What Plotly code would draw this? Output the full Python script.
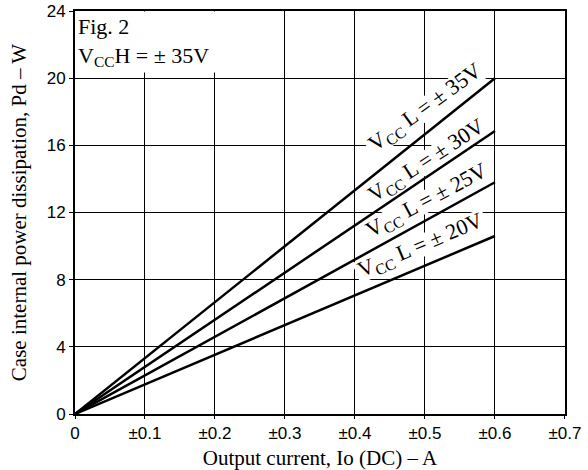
import math
import plotly.graph_objects as go

# Data
series_names = ["± 35V", "± 30V", "± 25V", "± 20V"]
x_points = [0.0, 0.6]
y_35 = [0.0, 20.0]
y_30 = [0.0, 16.85]
y_25 = [0.0, 13.8]
y_20 = [0.0, 10.6]
series_values = [y_35, y_30, y_25, y_20]

x_tickvals = [0, 0.1, 0.2, 0.3, 0.4, 0.5, 0.6, 0.7]
x_ticktext = ["0", "±0.1", "±0.2", "±0.3", "±0.4", "±0.5", "±0.6", "±0.7"]
y_tickvals = [0, 4, 8, 12, 16, 20, 24]

# label positions (data coords) and angles
label_x = [0.501, 0.503, 0.503, 0.494]
label_y = [18.2, 15.05, 12.7, 10.0]
label_angle = [-36, -33, -28, -23]

W, H = 588, 470
M = dict(l=75, r=23, t=11, b=56)
XR = [0, 0.7001]
YR = [0, 24.001]
px_x = (W - M["l"] - M["r"]) / (XR[1] - XR[0])
px_y = (H - M["t"] - M["b"]) / (YR[1] - YR[0])

fig = go.Figure()
for name, ys in zip(series_names, series_values):
    fig.add_trace(go.Scatter(x=x_points, y=ys, mode="lines",
                             line=dict(color="black", width=2.5),
                             showlegend=False, name=name))

serif = "Liberation Serif, Times New Roman, serif"
sans = "Liberation Sans, Arial, sans-serif"

# white backing boxes under the labels (between grid and traces)
box_w, box_h = 140, 22
for lx, ly, ang in zip(label_x, label_y, label_angle):
    t = math.radians(-ang)
    ux, uy = math.cos(t), math.sin(t)
    vx, vy = -math.sin(t), math.cos(t)
    pts = []
    for sw, sh in [(-1, -1), (1, -1), (1, 1), (-1, 1)]:
        dx = sw * box_w / 2 * ux + sh * box_h / 2 * vx
        dy = sw * box_w / 2 * uy + sh * box_h / 2 * vy
        pts.append((lx + dx / px_x, ly + dy / px_y))
    path = "M " + " L ".join(f"{a},{b}" for a, b in pts) + " Z"
    fig.add_shape(type="path", path=path, xref="x", yref="y",
                  fillcolor="white", line=dict(width=0), layer="between")

for name, lx, ly, ang in zip(series_names, label_x, label_y, label_angle):
    fig.add_annotation(x=lx, y=ly, xref="x", yref="y",
                       text="V<sub>CC</sub> L = " + name,
                       textangle=ang, showarrow=False,
                       font=dict(family=serif, size=22, color="black"))

fig.add_annotation(x=0, y=1, xref="paper", yref="paper",
                   xanchor="left", yanchor="top", align="left",
                   text="Fig. 2<br>V<sub>CC</sub>H = ± 35V",
                   showarrow=False, bgcolor="white", borderpad=2,
                   width=148,
                   font=dict(family=serif, size=22, color="black"))

fig.update_layout(
    width=W, height=H,
    margin=M,
    paper_bgcolor="white", plot_bgcolor="white",
    xaxis=dict(range=XR, tickvals=x_tickvals, ticktext=x_ticktext,
               showgrid=True, gridcolor="black", gridwidth=1,
               showline=True, linecolor="black", linewidth=2, mirror=True,
               ticks="outside", ticklen=3, tickcolor="black", zeroline=False,
               automargin=False,
               tickfont=dict(family=sans, size=17, color="black"),
               title=dict(text="Output current, Io (DC) – A", standoff=8,
                          font=dict(family=serif, size=21, color="black"))),
    yaxis=dict(range=YR, tickvals=y_tickvals,
               showgrid=True, gridcolor="black", gridwidth=1,
               showline=True, linecolor="black", linewidth=2, mirror=True,
               ticks="outside", ticklen=4, tickcolor="black", zeroline=False,
               automargin=False,
               tickfont=dict(family=sans, size=17, color="black"),
               title=dict(text="Case internal power dissipation, Pd – W", standoff=14,
                          font=dict(family=serif, size=21, color="black"))),
)

fig.write_html("out.html", config={"displayModeBar": False},
               post_script="document.body.style.margin='0';document.body.style.overflow='hidden';")
